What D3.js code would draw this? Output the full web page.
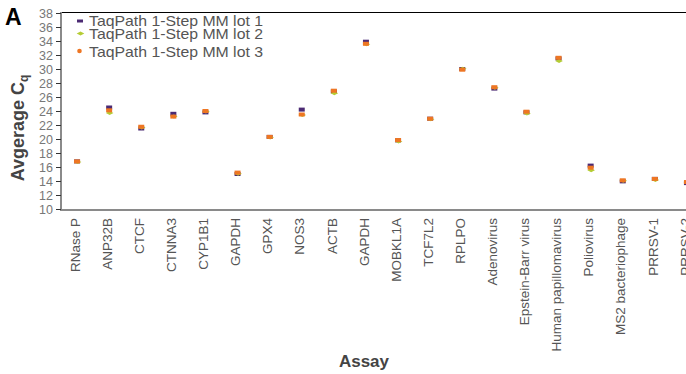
<!DOCTYPE html>
<html>
<head>
<meta charset="utf-8">
<script src="https://cdn.jsdelivr.net/npm/d3@7"></script>
<style>
  html, body { margin: 0; padding: 0; background: #fff; overflow: hidden; }
  svg { display: block; font-family: "Liberation Sans", Arial, sans-serif; }
</style>
</head>
<body>
<svg id="chart" width="686" height="374"></svg>
<script>
// Assays along the x axis
const assays = ["RNase P", "ANP32B", "CTCF", "CTNNA3", "CYP1B1", "GAPDH", "GPX4", "NOS3",
  "ACTB", "GAPDH ", "MOBKL1A", "TCF7L2", "RPLPO", "Adenovirus", "Epstein-Barr virus",
  "Human papillomavirus", "Poliovirus", "MS2 bacteriophage", "PRRSV-1", "PRRSV-2"];

// Average Cq per master-mix lot
const lot1 = [16.8, 24.5, 21.5, 23.6, 23.8, 15.0, 20.3, 24.2, 26.8, 33.9, 19.8, 22.9, 30.0, 27.2, 23.8, 31.5, 16.2, 13.95, 14.3, 13.7];
const lot2 = [16.8, 23.8, 21.7, 23.3, 24.0, 15.1, 20.3, 23.5, 26.6, 33.6, 19.7, 22.9, 30.1, 27.4, 23.7, 31.2, 15.6, 14.1, 14.2, 13.9];
const lot3 = [16.8, 24.1, 21.75, 23.2, 24.0, 15.2, 20.3, 23.5, 26.9, 33.6, 19.85, 22.9, 29.9, 27.4, 23.9, 31.6, 15.9, 14.1, 14.3, 13.85];

const seriesNames = ["TaqPath 1-Step MM lot 1", "TaqPath 1-Step MM lot 2", "TaqPath 1-Step MM lot 3"];
const seriesColors = ["#4b2a73", "#b5cc34", "#ee7623"];
const yTicks = [10, 12, 14, 16, 18, 20, 22, 24, 26, 28, 30, 32, 34, 36, 38];

const svg = d3.select("#chart");
const mLeft = 61, mTop = 13, mBottom = 209;

const x = d3.scaleBand().domain(assays).range([mLeft, mLeft + assays.length * 32.1]).padding(0);
const y = d3.scaleLinear().domain([10, 38]).range([mBottom, mTop]);

// Panel letter
svg.append("text").attr("x", 5).attr("y", 25)
  .attr("font-size", 23).attr("font-weight", "bold").attr("fill", "#000").text("A");

// Top border
svg.append("line").attr("x1", mLeft).attr("x2", 686).attr("y1", mTop - 0.5).attr("y2", mTop - 0.5)
  .attr("stroke", "#000").attr("stroke-width", 1.2);

// Y axis
const yAxis = svg.append("g").attr("transform", `translate(${mLeft},0)`)
  .call(d3.axisLeft(y).tickValues(yTicks).tickSize(5).tickPadding(3));
yAxis.select(".domain").attr("stroke", "#8a8a8a").attr("stroke-width", 2)
  .attr("d", `M0,${mTop - 1}V${mBottom + 2}`);
yAxis.selectAll(".tick line").attr("stroke", "#333").attr("stroke-width", 1);
yAxis.selectAll(".tick text").attr("fill", "#777").attr("font-size", 12.5)
  .attr("font-family", "Liberation Sans, Arial, sans-serif");

// X axis
const xAxis = svg.append("g").attr("transform", `translate(0,${mBottom + 1})`)
  .call(d3.axisBottom(x).tickSize(0).tickPadding(8));
xAxis.select(".domain").attr("stroke", "#8a8a8a").attr("stroke-width", 2.2)
  .attr("d", `M${mLeft},0H686`);
xAxis.selectAll(".tick text")
  .attr("fill", "#555").attr("font-size", 13.5)
  .attr("font-family", "Liberation Sans, Arial, sans-serif")
  .attr("text-anchor", "end")
  .attr("transform", "rotate(-90)")
  .attr("x", -8).attr("y", -2).attr("dy", "0.35em");

// Axis titles
svg.append("text").attr("x", 364).attr("y", 367).attr("text-anchor", "middle")
  .attr("font-size", 17).attr("font-weight", "bold").attr("fill", "#444").text("Assay");

const yt = svg.append("text").attr("transform", "translate(24,128) rotate(-90)")
  .attr("text-anchor", "middle").attr("font-size", 18).attr("font-weight", "bold").attr("fill", "#444");
yt.append("tspan").text("Avgerage C");
yt.append("tspan").attr("font-size", 12).attr("dy", 4).text("q");

// Markers
const cx = d => x(d) + x.bandwidth() / 2;
const plot = svg.append("g");

plot.selectAll("rect.lot1").data(assays).join("rect").attr("class", "lot1")
  .attr("x", d => cx(d) - 3).attr("y", (d, i) => y(lot1[i]) - 2)
  .attr("width", 6).attr("height", 4).attr("fill", seriesColors[0]);

const diamond = (px, py) => `M${px - 3.8},${py}L${px},${py - 2}L${px + 3.8},${py}L${px},${py + 2}Z`;
plot.selectAll("path.lot2").data(assays).join("path").attr("class", "lot2")
  .attr("d", (d, i) => diamond(cx(d) + 0.5, y(lot2[i]) + 0.5)).attr("fill", seriesColors[1]);

plot.selectAll("rect.lot3").data(assays).join("rect").attr("class", "lot3")
  .attr("x", d => cx(d) - 3).attr("y", (d, i) => y(lot3[i]) - 2)
  .attr("width", 6).attr("height", 4).attr("fill", seriesColors[2]);

// Legend
const legendY = [21, 34.5, 52];
const lg = svg.append("g");
lg.append("rect").attr("x", 77).attr("y", legendY[0] - 1.5).attr("width", 6).attr("height", 3).attr("fill", seriesColors[0]);
lg.append("path").attr("d", diamond(80.5, legendY[1] - 1)).attr("fill", seriesColors[1]);
lg.append("circle").attr("cx", 79.5).attr("cy", legendY[2] - 1).attr("r", 2.3).attr("fill", seriesColors[2]);
lg.selectAll("text").data(seriesNames).join("text")
  .attr("x", 89).attr("y", (d, i) => legendY[i]).attr("dy", "0.33em")
  .attr("font-size", 14.5).attr("fill", "#555")
  .attr("textLength", 174).attr("lengthAdjust", "spacingAndGlyphs")
  .text(d => d);
</script>
</body>
</html>
